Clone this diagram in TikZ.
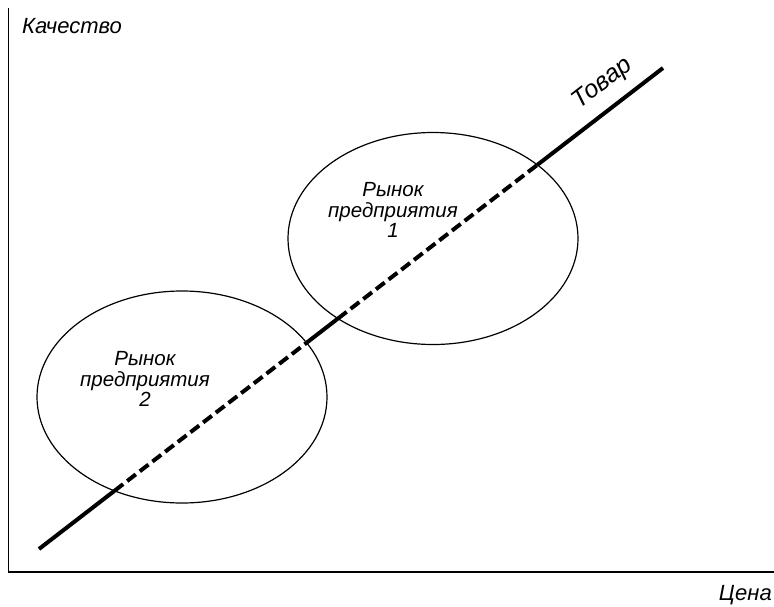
\documentclass[tikz,border=0pt]{standalone}
\usepackage{fontspec}
\setmainfont{Liberation Sans}
\usetikzlibrary{shapes.geometric,intersections}

\tikzset{
  axis/.style={line width=1.4pt, black},
  market/.style={ellipse, draw, line width=1.2pt, minimum width=290pt,
                 minimum height=212pt, inner sep=0pt},
  goods/.style={line width=4pt, black},
  goodsin/.style={goods, dash pattern=on 11pt off 5pt},
  lbl/.style={inner sep=0pt, font=\itshape\fontsize{22}{22}\selectfont},
  mlbl/.style={inner sep=0pt, align=center,
               font=\itshape\fontsize{20.5}{20.5}\selectfont},
}

\begin{document}
\begin{tikzpicture}[x=1pt, y=-1pt]
  \useasboundingbox (0,0) rectangle (774,606);
  \fill[white] (0,0) rectangle (774,606);

  % axes
  \coordinate (O) at (8.5,572);
  \coordinate (ytop) at (8.5,8);
  \coordinate (xend) at (774,572);
  \draw[axis] (ytop) -- (O) -- (xend);
  \node[lbl, anchor=base west] (quality) at (22,33) {Качество};
  \node[lbl, anchor=base east] (price) at (772,600) {Цена};

  % market areas of the two firms
  \node[market, name path=m1] (market1) at (433,238.5) {};
  \node[market, name path=m2] (market2) at (182,397) {};
  \node[mlbl] (t1) at (393,210) {Рынок\\предприятия\\1};
  \node[mlbl] (t2) at (145,379) {Рынок\\предприятия\\2};

  % the goods line: solid outside the markets, dashed inside
  \coordinate (gA) at (39,549);
  \coordinate (gB) at (663,68);
  \path[name path=g] (gA) -- (gB);
  \path[name intersections={of=g and m2, by={a1,a2}, sort by=g}];
  \path[name intersections={of=g and m1, by={b1,b2}, sort by=g}];
  \draw[goods] (gA) -- (a1);
  \draw[goodsin] (a1) -- (a2);
  \draw[goods] (a2) -- (b1);
  \draw[goodsin] (b1) -- (b2);
  \draw[goods] (b2) -- (gB);

  \node[inner sep=0pt, font=\itshape\fontsize{25}{25}\selectfont, rotate=37.6]
    (goodslbl) at (603,84) {Товар};
\end{tikzpicture}
\end{document}
